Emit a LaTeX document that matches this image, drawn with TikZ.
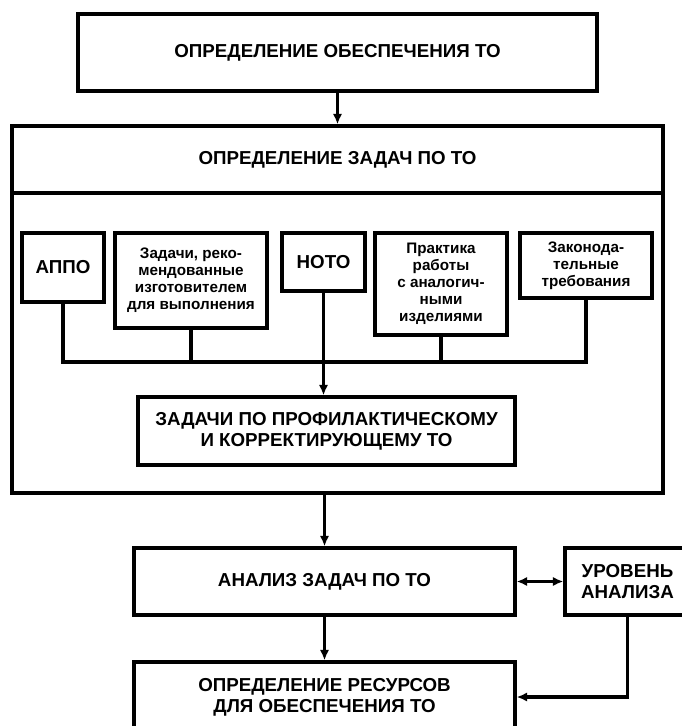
\documentclass[tikz,border=0pt]{standalone}
\usepackage{fontspec}
\setmainfont{Liberation Sans}
\usetikzlibrary{arrows.meta}
\tikzset{>={Latex[length=9pt,width=8pt]}}
\tikzset{blk/.style={draw, line width=2.8pt, align=center, inner sep=2pt, font=\bfseries\fontsize{16}{18}\selectfont},
  sblk/.style={blk, font=\bfseries\fontsize{13}{14.5}\selectfont},
  link/.style={line width=2.8pt}}

\begin{document}
\begin{tikzpicture}[x=0.03cm,y=-0.03cm]
\useasboundingbox (0,0) rectangle (682,726);
\fill[white] (0,0) rectangle (682,726);
\clip (0,0) rectangle (682,726);
\node[blk, minimum width=15.57cm, minimum height=2.31cm] (top) at (337.5,52.5) {ОПРЕДЕЛЕНИЕ ОБЕСПЕЧЕНИЯ ТО};
\node[blk, minimum width=19.53cm, minimum height=2.01cm] (head) at (337.5,159.5) {ОПРЕДЕЛЕНИЕ ЗАДАЧ ПО ТО};
\node[blk, minimum width=19.53cm, minimum height=9cm] (frame) at (337.5,343) {};
\node[blk, minimum width=2.46cm, minimum height=2.07cm] (appo) at (63,267.5) {АППО};
\node[sblk, minimum width=4.56cm, minimum height=2.85cm] (zad) at (191,280.5) {Задачи, реко-\\мендованные\\изготовителем\\для выполнения};
\node[blk, minimum width=2.49cm, minimum height=1.74cm] (noto) at (323.5,262) {НОТО};
\node[sblk, minimum width=3.96cm, minimum height=3.06cm] (prakt) at (441,284) {Практика\\работы\\с аналогич-\\ными\\изделиями};
\node[sblk, minimum width=3.96cm, minimum height=1.95cm] (zakon) at (586,265.5) {Законода-\\тельные\\требования};
\node[blk, minimum width=11.31cm, minimum height=2.04cm] (prof) at (326.5,431) {ЗАДАЧИ ПО ПРОФИЛАКТИЧЕСКОМУ\\И КОРРЕКТИРУЮЩЕМУ ТО};
\node[blk, minimum width=11.43cm, minimum height=2.01cm] (anal) at (324.5,581.5) {АНАЛИЗ ЗАДАЧ ПО ТО};
\node[blk, minimum width=3.75cm, minimum height=2.01cm] (urov) at (627.5,581.5) {УРОВЕНЬ\\АНАЛИЗА};
\node[blk, minimum width=11.43cm, minimum height=2.1cm] (res) at (324.5,697) {ОПРЕДЕЛЕНИЕ РЕСУРСОВ\\ДЛЯ ОБЕСПЕЧЕНИЯ ТО};
\coordinate (bus) at (0,362);
\draw[link,->] (top.south) -- (top.south |- head.north);
\draw[link] (appo.south) |- (zakon.south |- bus) -- (zakon.south);
\draw[link] (zad.south) -- (zad.south |- bus);
\draw[link] (prakt.south) -- (prakt.south |- bus);
\draw[link,->] (noto.south) -- (noto.south |- prof.north);
\draw[link,->] (anal.north |- frame.south) -- (anal.north);
\draw[link,->] (anal.south) -- (res.north);
\draw[link,<->] (anal.east) -- (urov.west);
\draw[link,->] (urov.south) |- (res.east);
\end{tikzpicture}
\end{document}
